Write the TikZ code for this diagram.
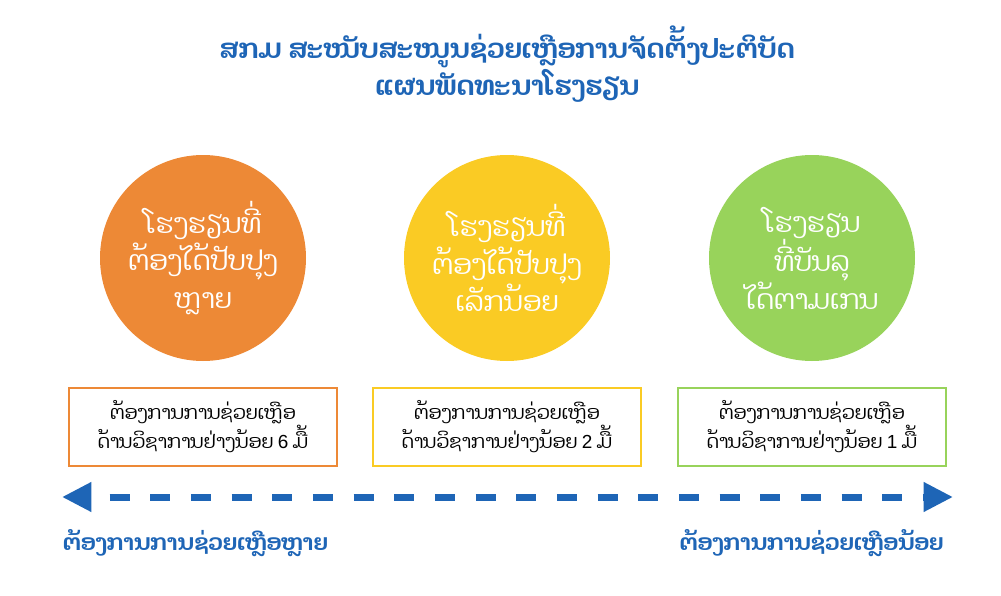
\documentclass[tikz,border=0pt]{standalone}
\usepackage{fontspec}
\newfontfamily\laofont[Script=Lao]{Dhyana}
\newfontfamily\digitfont{Liberation Sans}
\usetikzlibrary{arrows.meta}
\definecolor{titleblue}{RGB}{30,101,182}
\definecolor{needorange}{RGB}{237,137,54}
\definecolor{needyellow}{RGB}{250,203,36}
\definecolor{needgreen}{RGB}{152,211,91}

\begin{document}
\begin{tikzpicture}[x=0.75pt,y=-0.75pt,
    title/.style={text=titleblue, font=\laofont\bfseries\fontsize{20.3}{25}\selectfont, align=center},
    school/.style={circle, minimum size=154.5pt, inner sep=0pt, text=white, align=center,
        font=\laofont\fontsize{20.5}{28}\selectfont},
    needbox/.style={draw, line width=1.5pt, fill=white, minimum width=201pt, minimum height=59pt,
        inner sep=0pt, align=center, font=\laofont\fontsize{14.2}{20}\selectfont},
    scale label/.style={text=titleblue, font=\laofont\bfseries\fontsize{16.8}{18}\selectfont}]
\useasboundingbox (0,0) rectangle (1001,596);

% --- TITLE ---
\node[title] (head) at (507,64) {ສກມ ສະໜັບສະໜູນຊ່ວຍເຫຼືອການຈັດຕັ້ງປະຕິບັດ\\ແຜນພັດທະນາໂຮງຮຽນ};

% --- SCHOOL GROUPS ---
\node[school, fill=needorange] (many) at (203,258) {ໂຮງຮຽນທີ່\\ຕ້ອງໄດ້ປັບປຸງ\\ຫຼາຍ};
\node[school, fill=needyellow] (few) at (507,258) {ໂຮງຮຽນທີ່\\ຕ້ອງໄດ້ປັບປຸງ\\ເລັກນ້ອຍ};
\node[school, fill=needgreen] (met) at (812,258) {ໂຮງຮຽນ\\ທີ່ບັນລຸ\\ໄດ້ຕາມເກນ};

% --- SUPPORT DAYS ---
\node[needbox, draw=needorange] (manydays) at (203,427) {ຕ້ອງການການຊ່ວຍເຫຼືອ\\ດ້ານວິຊາການຢ່າງນ້ອຍ {\digitfont 6} ມື້};
\node[needbox, draw=needyellow] (fewdays) at (507,427) {ຕ້ອງການການຊ່ວຍເຫຼືອ\\ດ້ານວິຊາການຢ່າງນ້ອຍ {\digitfont 2} ມື້};
\node[needbox, draw=needgreen] (metdays) at (812,427) {ຕ້ອງການການຊ່ວຍເຫຼືອ\\ດ້ານວິຊາການຢ່າງນ້ອຍ {\digitfont 1} ມື້};

% --- SCALE ARROW ---
\coordinate (lowend) at (62,497);
\coordinate (highend) at (953,497);
\draw[titleblue, line width=5.25pt, dash pattern=on 15pt off 15.5pt, dash phase=-15pt,
    {Triangle[length=22pt,width=21pt]}-{Triangle[length=22pt,width=21pt]}] (lowend) -- (highend);

\node[scale label, anchor=west] (muchhelp) at (58,543) {ຕ້ອງການການຊ່ວຍເຫຼືອຫຼາຍ};
\node[scale label, anchor=east] (littlehelp) at (948,543) {ຕ້ອງການການຊ່ວຍເຫຼືອນ້ອຍ};
\end{tikzpicture}
\end{document}
